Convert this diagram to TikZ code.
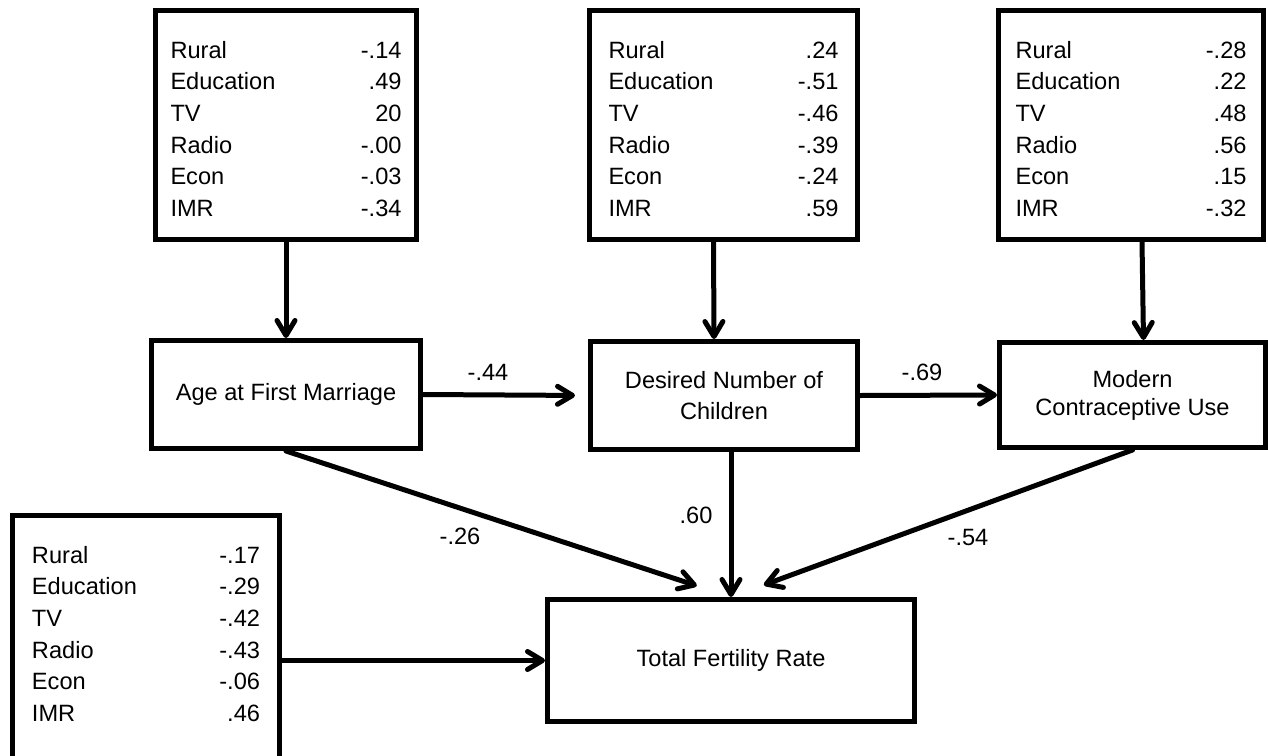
\documentclass[tikz,border=0pt]{standalone}
\usepackage{fontspec}
\setmainfont{Liberation Sans}
\usetikzlibrary{arrows.meta}
% two columns of predictor weights inside a box, moved down by #2
\newcommand\coefs[3]{\raisebox{-#2}[\height][\depth]{\begin{tabular*}{#1}{@{}l@{\extracolsep{\fill}}r@{}}#3\end{tabular*}}}

\begin{document}
\begin{tikzpicture}[x=0.5pt,y=-0.5pt,>={Straight Barb[round,length=7.5pt,width=9pt]},
	line join=round,line cap=round,font=\fontsize{11.8}{15.8}\selectfont,
	box/.style={draw,line width=2.5pt,line join=miter,inner sep=0pt,align=center},
	link/.style={->,line width=2.5pt},
	lbl/.style={inner sep=0pt}]
	\clip (0,0) rectangle (1268,755);
	% predictor boxes
	\node[box,minimum width=130.5pt,minimum height=114.5pt] (xage) at (286,125)
	{\coefs{115.5pt}{3pt}{Rural & -.14\\ Education & .49\\ TV & 20\\ Radio & -.00\\ Econ & -.03\\ IMR & -.34}};
	\node[box,minimum width=134pt,minimum height=114.5pt] (xdes) at (723.5,125)
	{\coefs{115pt}{3pt}{Rural & .24\\ Education & -.51\\ TV & -.46\\ Radio & -.39\\ Econ & -.24\\ IMR & .59}};
	\node[box,minimum width=132.5pt,minimum height=114.5pt] (xmod) at (1131,125)
	{\coefs{115.5pt}{3pt}{Rural & -.28\\ Education & .22\\ TV & .48\\ Radio & .56\\ Econ & .15\\ IMR & -.32}};
	\node[box,anchor=north,minimum width=133.5pt,minimum height=126pt] (xtfr) at (146,512.5)
	{\coefs{114pt}{-2.5pt}{Rural & -.17\\ Education & -.29\\ TV & -.42\\ Radio & -.43\\ Econ & -.06\\ IMR & .46}};
	% outcome boxes
	\node[box,minimum width=134.5pt,minimum height=54pt] (age) at (286,394.5) {Age at First Marriage};
	\node[box,minimum width=133.5pt,minimum height=54pt,font=\fontsize{11.8}{15.5}\selectfont]
	(des) at (724,395.5) {Desired Number of\\Children};
	\node[box,minimum width=133pt,minimum height=52.5pt,font=\fontsize{11.8}{14}\selectfont]
	(mod) at (1132.5,395) {Modern\\Contraceptive Use};
	\node[box,minimum width=183.5pt,minimum height=61pt] (tfr) at (731,660.5) {Total Fertility Rate};
	% paths
	\draw[link] (xage.south) -- (age.north);
	\draw[link] ([xshift=-5pt]xdes.south) -- ([xshift=-5pt]des.north);
	\draw[link] ([xshift=5.5pt]xmod.south) -- ([xshift=5.5pt]mod.north);
	\draw[link,shorten >=6.5pt] (age.east) -- (des.west);
	\draw[link] (des.east) -- (mod.west);
	\draw[link,shorten >=18pt] (age.south) -- (tfr.north);
	\draw[link] (des.south -| tfr.north) -- (tfr.north);
	\draw[link,shorten >=17.5pt] (mod.south) -- (tfr.north);
	\draw[link] (xtfr.east |- tfr.west) -- (tfr.west);
	% path coefficients
	\node[lbl] (c44) at (488,372) {-.44};
	\node[lbl] (c69) at (922,372) {-.69};
	\node[lbl] (c60) at (696,515) {.60};
	\node[lbl] (c26) at (460,536) {-.26};
	\node[lbl] (c54) at (968,537) {-.54};
\end{tikzpicture}
\end{document}
